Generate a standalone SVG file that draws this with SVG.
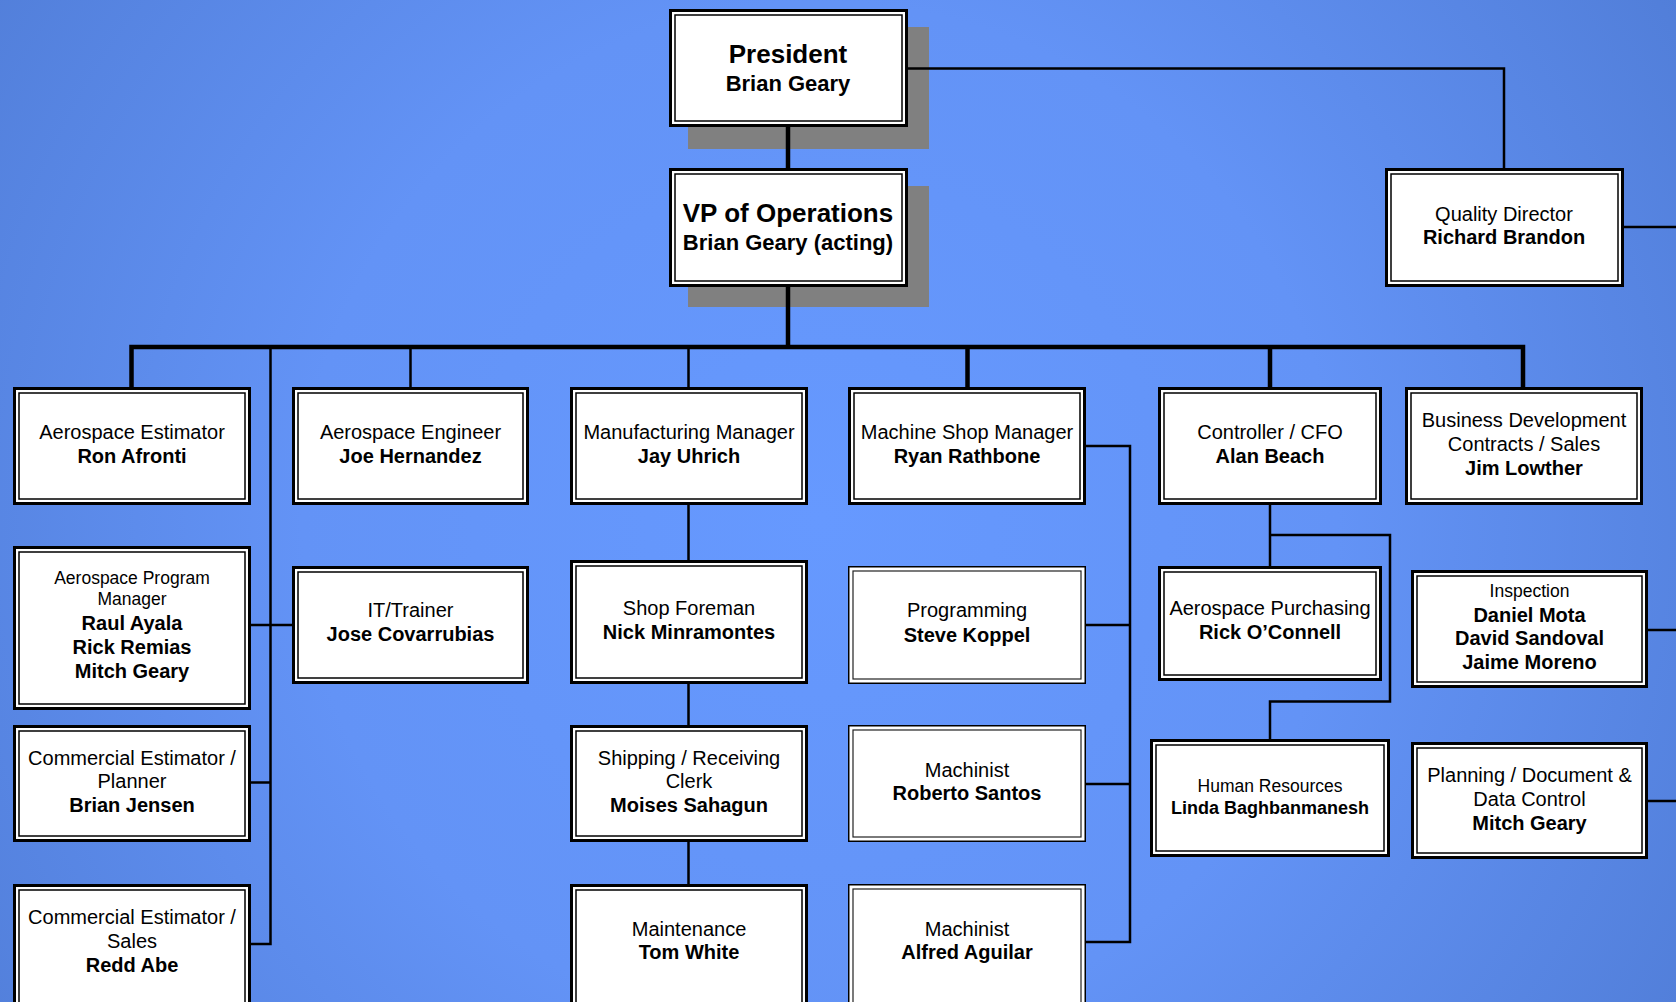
<svg xmlns="http://www.w3.org/2000/svg" width="1676" height="1002" viewBox="0 0 1676 1002">
<defs>
<radialGradient id="bg" gradientUnits="userSpaceOnUse" cx="820" cy="520" r="1150">
<stop offset="0" stop-color="#6699ff"/>
<stop offset="0.45" stop-color="#6393f6"/>
<stop offset="1" stop-color="#4c78d0"/>
</radialGradient>
</defs>
<style>
.o{fill:#fff;stroke:#000;stroke-width:3}
.i{fill:none;stroke:#000;stroke-width:1.5}
.to{fill:#fff;stroke:#000;stroke-width:1.5}
.ti{fill:none;stroke:#222;stroke-width:1.2}
.sh{fill:#808080}
.c{fill:none;stroke:#000;stroke-width:2.5}
.k{fill:none;stroke:#000;stroke-width:4.5}
text{font-family:"Liberation Sans",Arial,sans-serif;text-anchor:middle;fill:#000}
.r{font-size:20px}
.b{font-size:20px;font-weight:bold}
.s{font-size:17.5px}
</style>
<rect width="1676" height="1002" fill="url(#bg)"/>
<g id="shadows">
<rect class="sh" x="688" y="27" width="241" height="122"/>
<rect class="sh" x="688" y="186" width="241" height="121"/>
</g>
<g id="connectors">
<path class="c" d="M907,68.5 H1504 V168"/>
<path class="c" d="M1624,227 H1676"/>
<path class="k" d="M788,127 V168"/>
<path class="k" d="M788,287 V347"/>
<path class="k" d="M131.5,387 V347 H1523 V387"/>
<path class="k" d="M967.5,347 V387"/>
<path class="k" d="M1270,347 V387"/>
<path class="c" d="M410.5,347 V387"/>
<path class="c" d="M688.5,347 V387"/>
<path class="c" d="M270.5,347 V944 H251"/>
<path class="c" d="M251,625 H292"/>
<path class="c" d="M251,782.5 H270.5"/>
<path class="c" d="M688.5,505 V560 M688.5,684 V725 M688.5,842 V884"/>
<path class="c" d="M1086,446 H1130 V942 H1086"/>
<path class="c" d="M1086,625 H1130 M1086,784 H1130"/>
<path class="c" d="M1270,505 V566 M1270,535 H1390 V701.5 H1270 V739"/>
<path class="c" d="M1648,630 H1676 M1648,801 H1676"/>
</g>
<g id="president">
<rect class="o" x="670.5" y="10.5" width="236" height="115"/>
<rect class="i" x="675" y="15" width="227" height="106"/>
<text x="788" y="62.5" style="font-size:26px;font-weight:bold">President</text>
<text x="788" y="90.5" style="font-size:22px;font-weight:bold">Brian Geary</text>
</g>
<g id="vp">
<rect class="o" x="670.5" y="169.5" width="236" height="116"/>
<rect class="i" x="675" y="174" width="227" height="107"/>
<text x="788" y="221.5" style="font-size:26px;font-weight:bold">VP of Operations</text>
<text x="788" y="249.5" style="font-size:22px;font-weight:bold">Brian Geary (acting)</text>
</g>
<g id="quality">
<rect class="o" x="1386.5" y="169.5" width="236" height="116"/>
<rect class="i" x="1391" y="174" width="227" height="107"/>
<text class="r" x="1504" y="221">Quality Director</text>
<text class="b" x="1504" y="244">Richard Brandon</text>
</g>
<g id="aero-estimator">
<rect class="o" x="14.5" y="388.5" width="235" height="115"/>
<rect class="i" x="19" y="393" width="226" height="106"/>
<text class="r" x="132" y="439">Aerospace Estimator</text>
<text class="b" x="132" y="463">Ron Afronti</text>
</g>
<g id="aero-engineer">
<rect class="o" x="293.5" y="388.5" width="234" height="115"/>
<rect class="i" x="298" y="393" width="225" height="106"/>
<text class="r" x="410.5" y="439">Aerospace Engineer</text>
<text class="b" x="410.5" y="463">Joe Hernandez</text>
</g>
<g id="mfg-manager">
<rect class="o" x="571.5" y="388.5" width="235" height="115"/>
<rect class="i" x="576" y="393" width="226" height="106"/>
<text class="r" x="689" y="439">Manufacturing Manager</text>
<text class="b" x="689" y="463">Jay Uhrich</text>
</g>
<g id="machine-shop">
<rect class="o" x="849.5" y="388.5" width="235" height="115"/>
<rect class="i" x="854" y="393" width="226" height="106"/>
<text class="r" x="967" y="439">Machine Shop Manager</text>
<text class="b" x="967" y="463">Ryan Rathbone</text>
</g>
<g id="cfo">
<rect class="o" x="1159.5" y="388.5" width="221" height="115"/>
<rect class="i" x="1164" y="393" width="212" height="106"/>
<text class="r" x="1270" y="439">Controller / CFO</text>
<text class="b" x="1270" y="463">Alan Beach</text>
</g>
<g id="bizdev">
<rect class="o" x="1406.5" y="388.5" width="235" height="115"/>
<rect class="i" x="1411" y="393" width="226" height="106"/>
<text class="r" x="1524" y="427">Business Development</text>
<text class="r" x="1524" y="451">Contracts / Sales</text>
<text class="b" x="1524" y="475">Jim Lowther</text>
</g>
<g id="program-manager">
<rect class="o" x="14.5" y="547.5" width="235" height="161"/>
<rect class="i" x="19" y="552" width="226" height="152"/>
<text class="s" x="132" y="584">Aerospace Program</text>
<text class="s" x="132" y="605">Manager</text>
<text class="b" x="132" y="630">Raul Ayala</text>
<text class="b" x="132" y="654">Rick Remias</text>
<text class="b" x="132" y="678">Mitch Geary</text>
</g>
<g id="it-trainer">
<rect class="o" x="293.5" y="567.5" width="234" height="115"/>
<rect class="i" x="298" y="572" width="225" height="106"/>
<text class="r" x="410.5" y="617">IT/Trainer</text>
<text class="b" x="410.5" y="641">Jose Covarrubias</text>
</g>
<g id="shop-foreman">
<rect class="o" x="571.5" y="561.5" width="235" height="121"/>
<rect class="i" x="576" y="566" width="226" height="112"/>
<text class="r" x="689" y="615">Shop Foreman</text>
<text class="b" x="689" y="639">Nick Minramontes</text>
</g>
<g id="programming">
<rect class="to" x="848.75" y="566.75" width="236.5" height="116.5"/>
<rect class="ti" x="853" y="571" width="228" height="108"/>
<text class="r" x="967" y="617">Programming</text>
<text class="b" x="967" y="642">Steve Koppel</text>
</g>
<g id="purchasing">
<rect class="o" x="1159.5" y="567.5" width="221" height="112"/>
<rect class="i" x="1164" y="572" width="212" height="103"/>
<text class="r" x="1270" y="615">Aerospace Purchasing</text>
<text class="b" x="1270" y="639">Rick O’Connell</text>
</g>
<g id="inspection">
<rect class="o" x="1412.5" y="571.5" width="234" height="115"/>
<rect class="i" x="1417" y="576" width="225" height="106"/>
<text class="s" x="1529.5" y="597">Inspection</text>
<text class="b" x="1529.5" y="622">Daniel Mota</text>
<text class="b" x="1529.5" y="645">David Sandoval</text>
<text class="b" x="1529.5" y="669">Jaime Moreno</text>
</g>
<g id="comm-planner">
<rect class="o" x="14.5" y="726.5" width="235" height="114"/>
<rect class="i" x="19" y="731" width="226" height="105"/>
<text class="r" x="132" y="765">Commercial Estimator /</text>
<text class="r" x="132" y="788">Planner</text>
<text class="b" x="132" y="812">Brian Jensen</text>
</g>
<g id="shipping">
<rect class="o" x="571.5" y="726.5" width="235" height="114"/>
<rect class="i" x="576" y="731" width="226" height="105"/>
<text class="r" x="689" y="765">Shipping / Receiving</text>
<text class="r" x="689" y="788">Clerk</text>
<text class="b" x="689" y="812">Moises Sahagun</text>
</g>
<g id="machinist-santos">
<rect class="to" x="848.75" y="725.75" width="236.5" height="115.5"/>
<rect class="ti" x="853" y="730" width="228" height="107"/>
<text class="r" x="967" y="777">Machinist</text>
<text class="b" x="967" y="800">Roberto Santos</text>
</g>
<g id="hr">
<rect class="o" x="1151.5" y="740.5" width="237" height="115"/>
<rect class="i" x="1156" y="745" width="228" height="106"/>
<text class="s" x="1270" y="792">Human Resources</text>
<text x="1270" y="814" style="font-size:18px;font-weight:bold">Linda Baghbanmanesh</text>
</g>
<g id="planning">
<rect class="o" x="1412.5" y="743.5" width="234" height="114"/>
<rect class="i" x="1417" y="748" width="225" height="105"/>
<text class="r" x="1529.5" y="782">Planning / Document &amp;</text>
<text class="r" x="1529.5" y="806">Data Control</text>
<text class="b" x="1529.5" y="830">Mitch Geary</text>
</g>
<g id="comm-sales">
<rect class="o" x="14.5" y="885.5" width="235" height="125"/>
<rect class="i" x="19" y="890" width="226" height="116"/>
<text class="r" x="132" y="924">Commercial Estimator /</text>
<text class="r" x="132" y="948">Sales</text>
<text class="b" x="132" y="972">Redd Abe</text>
</g>
<g id="maintenance">
<rect class="o" x="571.5" y="885.5" width="235" height="125"/>
<rect class="i" x="576" y="890" width="226" height="116"/>
<text class="r" x="689" y="936">Maintenance</text>
<text class="b" x="689" y="959">Tom White</text>
</g>
<g id="machinist-aguilar">
<rect class="to" x="848.75" y="884.75" width="236.5" height="125"/>
<rect class="ti" x="853" y="889" width="228" height="117"/>
<text class="r" x="967" y="936">Machinist</text>
<text class="b" x="967" y="959">Alfred Aguilar</text>
</g>
</svg>
